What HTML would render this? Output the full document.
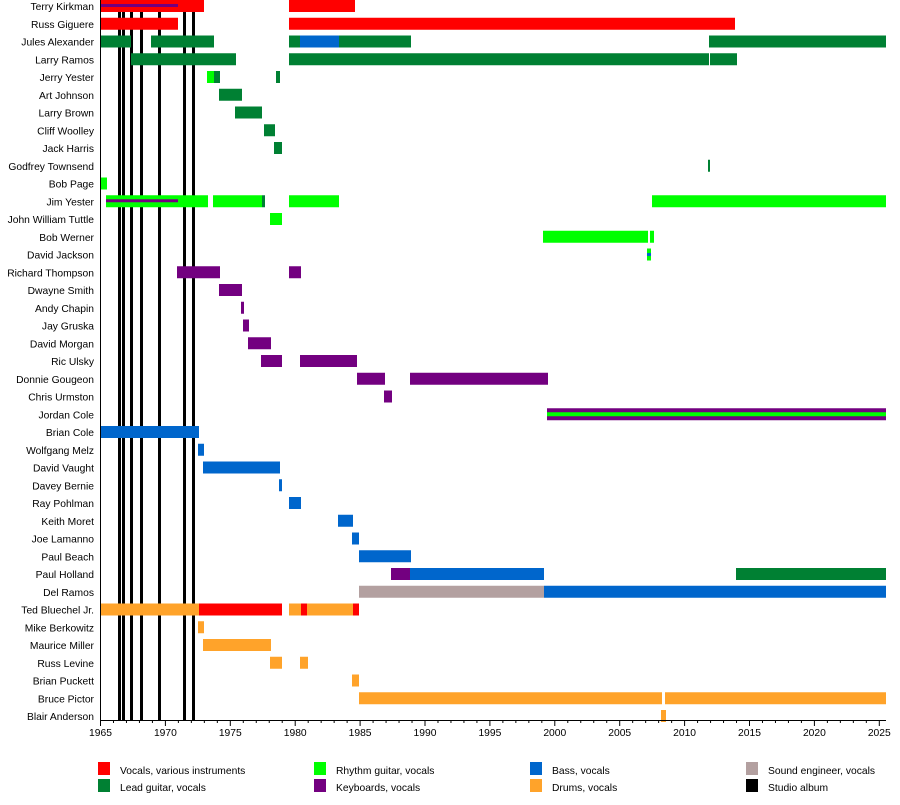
<!DOCTYPE html>
<html><head><meta charset="utf-8"><style>
body{margin:0;background:#fff}
svg text{font-family:"Liberation Sans",sans-serif;font-size:10.3px;fill:#000}
</style></head><body>
<svg width="900" height="800" xmlns="http://www.w3.org/2000/svg">
<g id="album" fill="#000">
<rect x="118" y="0" width="3" height="720"/><rect x="122" y="0" width="3" height="720"/>
<rect x="130" y="0" width="3" height="720"/><rect x="140" y="0" width="3" height="720"/>
<rect x="158" y="0" width="3" height="720"/><rect x="183" y="0" width="3" height="720"/>
<rect x="192" y="0" width="3" height="720"/>
</g>
<g id="bars"></g>
<g id="names" text-anchor="end"></g>
<line x1="100.5" y1="0" x2="100.5" y2="720" stroke="#000"/>
<line x1="100" y1="720.5" x2="886" y2="720.5" stroke="#000"/>
<g id="ticks" stroke="#000"></g>
<g id="tl" text-anchor="middle"></g>
<g>
<rect x="98" y="762" width="12" height="13" fill="#ff0000"/><text x="120" y="774">Vocals, various instruments</text>
<rect x="98" y="779" width="12" height="13" fill="#008033"/><text x="120" y="791">Lead guitar, vocals</text>
<rect x="314" y="762" width="12" height="13" fill="#00ff00"/><text x="336" y="774">Rhythm guitar, vocals</text>
<rect x="314" y="779" width="12" height="13" fill="#730080"/><text x="336" y="791">Keyboards, vocals</text>
<rect x="530" y="762" width="12" height="13" fill="#0066cc"/><text x="552" y="774">Bass, vocals</text>
<rect x="530" y="779" width="12" height="13" fill="#ffa32a"/><text x="552" y="791">Drums, vocals</text>
<rect x="746" y="762" width="12" height="13" fill="#b3a0a0"/><text x="768" y="774">Sound engineer, vocals</text>
<rect x="746" y="779" width="12" height="13" fill="#000"/><text x="768" y="791">Studio album</text>
</g>
</svg>
<script>
const C={r:"#ff0000",g:"#008033",l:"#00ff00",p:"#730080",b:"#0066cc",o:"#ffa32a",s:"#b3a0a0"};
const rows=[
["Terry Kirkman",[["r",100,204],["r",289,355]]],
["Russ Giguere",[["r",100,178],["r",289,735]]],
["Jules Alexander",[["g",100,131],["g",151,214],["g",289,300],["b",300,339],["g",339,411],["g",709,886]]],
["Larry Ramos",[["g",131,236],["g",289,709],["g",710,737]]],
["Jerry Yester",[["l",207,214],["g",214,220],["g",276,280]]],
["Art Johnson",[["g",219,242]]],
["Larry Brown",[["g",235,262]]],
["Cliff Woolley",[["g",264,275]]],
["Jack Harris",[["g",274,282]]],
["Godfrey Townsend",[["g",708,710]]],
["Bob Page",[["l",100,107]]],
["Jim Yester",[["l",106,208],["l",213,262],["g",262,265],["l",289,339],["l",652,886]]],
["John William Tuttle",[["l",270,282]]],
["Bob Werner",[["l",543,648],["l",650,654]]],
["David Jackson",[["l",647,651]]],
["Richard Thompson",[["p",177,220],["p",289,301]]],
["Dwayne Smith",[["p",219,242]]],
["Andy Chapin",[["p",241,244]]],
["Jay Gruska",[["p",243,249]]],
["David Morgan",[["p",248,271]]],
["Ric Ulsky",[["p",261,282],["p",300,357]]],
["Donnie Gougeon",[["p",357,385],["p",410,548]]],
["Chris Urmston",[["p",384,392]]],
["Jordan Cole",[["p",547,886]]],
["Brian Cole",[["b",100,199]]],
["Wolfgang Melz",[["b",198,204]]],
["David Vaught",[["b",203,280]]],
["Davey Bernie",[["b",279,282]]],
["Ray Pohlman",[["b",289,301]]],
["Keith Moret",[["b",338,353]]],
["Joe Lamanno",[["b",352,359]]],
["Paul Beach",[["b",359,411]]],
["Paul Holland",[["p",391,410],["b",410,544],["g",736,886]]],
["Del Ramos",[["s",359,544],["b",544,886]]],
["Ted Bluechel Jr.",[["o",100,199],["r",199,282],["o",289,301],["r",301,307],["o",307,353],["r",353,359]]],
["Mike Berkowitz",[["o",198,204]]],
["Maurice Miller",[["o",203,271]]],
["Russ Levine",[["o",270,282],["o",300,308]]],
["Brian Puckett",[["o",352,359]]],
["Bruce Pictor",[["o",359,662],["o",665,886]]],
["Blair Anderson",[["o",661,666]]]];
const NS="http://www.w3.org/2000/svg";
function el(p,t,a,txt){const e=document.createElementNS(NS,t);for(const k in a)e.setAttribute(k,a[k]);if(txt)e.textContent=txt;p.appendChild(e);return e;}
const bars=document.getElementById("bars"),names=document.getElementById("names");
rows.forEach((r,i)=>{const cy=6+i*17.75;
 el(names,"text",{x:94,y:cy+4},r[0]);
 r[1].forEach(b=>el(bars,"rect",{x:b[1],y:cy-6,width:b[2]-b[1],height:12,fill:C[b[0]]}));
});
el(bars,"rect",{x:100,y:4,width:78,height:3,fill:C.p});
el(bars,"rect",{x:106,y:6+11*17.75-2,width:72,height:3,fill:C.p});
el(bars,"rect",{x:547,y:6+23*17.75-2,width:339,height:4,fill:C.l});
el(bars,"rect",{x:647,y:6+14*17.75-1.5,width:4,height:3,fill:C.b});
const ticks=document.getElementById("ticks"),tl=document.getElementById("tl");
for(let y=1965;y<=2025;y++){const x=100.5+(y-1965)*12.98;
 el(ticks,"line",{x1:x,y1:720,x2:x,y2:y%5==0?726:723});
 if(y%5==0)el(tl,"text",{x:x,y:736},String(y));}
</script>
</body></html>
